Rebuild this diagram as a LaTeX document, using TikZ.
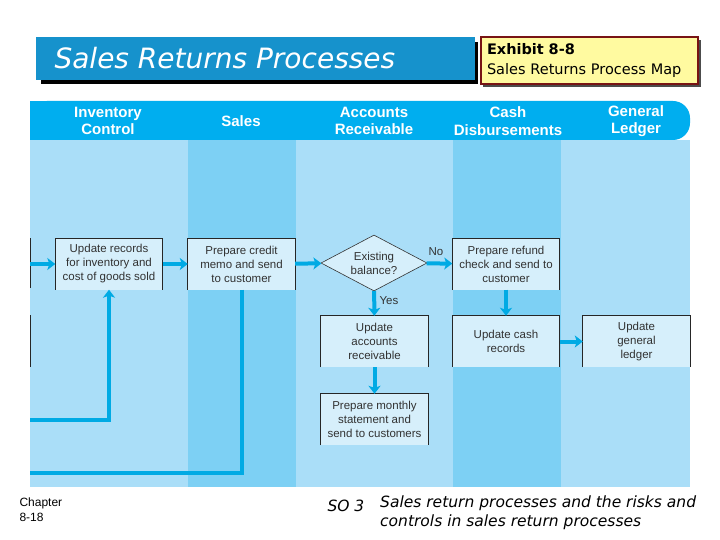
\documentclass[tikz,border=0pt]{standalone}
\usepackage{fontspec}
\setmainfont{Liberation Sans}
\newfontfamily\comic{DejaVu Sans}
\usetikzlibrary{arrows.meta,shapes.geometric}
\definecolor{lanelight}{RGB}{170,222,248}
\definecolor{lanedark}{RGB}{125,208,244}
\definecolor{headblue}{RGB}{0,174,239}
\definecolor{flow}{RGB}{0,170,228}
\definecolor{boxfill}{RGB}{214,239,251}
\definecolor{titleblue}{RGB}{22,146,204}
\definecolor{exfill}{RGB}{255,250,160}
\definecolor{exborder}{RGB}{120,20,20}
\definecolor{txt}{RGB}{50,50,50}
\begin{document}
\begin{tikzpicture}[x=1pt,y=-1pt,
  proc/.style={fill=boxfill, minimum width=107pt, minimum height=51pt, inner sep=0pt,
    align=center, font=\fontsize{11.5}{14}\selectfont, text=txt},
  dec/.style={diamond, draw=black!80, line width=0.6pt, fill=boxfill, shape aspect=1.9,
    minimum width=106pt, minimum height=56pt, inner sep=0pt, align=center,
    font=\fontsize{11.5}{14}\selectfont, text=txt},
  flowline/.style={draw=flow, line width=4pt},
  flowarrow/.style={flowline, -{Stealth[length=8pt,width=12pt,inset=2pt]}},
  lanehead/.style={text=white, align=center, font=\bfseries\fontsize{15}{17.5}\selectfont},
  edgeline/.style={draw=black!85, line width=0.7pt},
  lbl/.style={font=\fontsize{11.5}{13}\selectfont, text=txt}
]
\useasboundingbox[fill=white] (0,0) rectangle (720,540);

% title
\fill[black] (41,42) rectangle (478,84);
\fill[titleblue] (36,37) rectangle (475,80);
\node[anchor=west, text=white, font=\comic\itshape\fontsize{28}{30}\selectfont] (title) at (51,58) {Sales Returns Processes};

% exhibit box
\fill[black!70] (483,40) rectangle (701,87);
\node[draw=exborder, line width=2pt, fill=exfill, text width=205pt, inner xsep=6pt, inner ysep=4pt,
  minimum height=47pt, align=left, anchor=west, font=\comic\fontsize{14.5}{20.5}\selectfont] (exhibit) at (480,60.5)
  {\textbf{Exhibit 8-8}\\Sales Returns Process Map};

% lanes
\fill[lanelight] (30,140) rectangle (188,487);
\fill[lanedark] (188,140) rectangle (296,487);
\fill[lanelight] (296,140) rectangle (453,487);
\fill[lanedark] (453,140) rectangle (561,487);
\fill[lanelight] (561,140) rectangle (690,487);
\fill[headblue, rounded corners=17pt] (30,101) rectangle (690,140);
\fill[headblue] (30,101) rectangle (660,140);
\node[lanehead] (h1) at (108,121) {Inventory\\Control};
\node[lanehead] (h2) at (241,121) {Sales};
\node[lanehead] (h3) at (374,121) {Accounts\\Receivable};
\node[lanehead] (h4) at (508,121) {Cash\\Disbursements};
\node[lanehead] (h5) at (636,121) {General\\Ledger};

% boxes
\node[proc] (b1) at (109,264) {Update records\\for inventory and\\cost of goods sold};
\node[proc] (b2) at (241.5,264) {Prepare credit\\memo and send\\to customer};
\node[dec] (dec) at (374,263) {Existing\\balance?};
\node[proc] (b3) at (506,264) {Prepare refund\\check and send to\\customer};
\node[proc] (b4) at (374.5,341.5) {Update\\accounts\\receivable};
\node[proc] (b5) at (506,341.5) {Update cash\\records};
\node[proc] (b6) at (636.5,341.5) {Update\\general\\ledger};
\node[proc] (b7) at (374.5,419.5) {Prepare monthly\\statement and\\send to customers};
\foreach \n in {b1,b2,b3,b4,b5,b6,b7}
  \draw[edgeline] (\n.south west) -- (\n.north west) -- (\n.north east) -- (\n.south east);

% left edge fragments
\draw[edgeline] (30,238) -- (30,288);
\draw[edgeline] (30,315) -- (30,367);

% flows
\coordinate (in1) at (30,264);
\coordinate (ret1) at (30,473);
\coordinate (ret2) at (30,420);
\draw[flowarrow] (in1) -- (b1);
\draw[flowarrow] (b1) -- (b2);
\draw[flowarrow] (b2) -- (dec);
\draw[flowarrow] (dec) -- (b3);
\draw[flowarrow] (dec) -- (b4);
\draw[flowarrow] (b3) -- (b5);
\draw[flowarrow] (b5) -- (b6);
\draw[flowarrow] (b4) -- (b7);
\draw[flowline] (b2.south) -- (b2.south |- ret1) -- (ret1);
\draw[flowarrow] (ret2) -| (b1.south);
\node[lbl] (no) at (436,252) {No};
\node[lbl] (yes) at (389,301) {Yes};

% footer
\node[anchor=north west, align=left, font=\fontsize{12}{15}\selectfont] (chap) at (16,494) {Chapter\\8-18};
\node[anchor=base west, font=\comic\itshape\fontsize{15.5}{19}\selectfont] (so) at (324,511) {SO 3};
\node[anchor=north west, align=left, inner sep=0pt, font=\comic\itshape\fontsize{15.5}{19}\selectfont] (sotext) at (380,496)
  {Sales return processes and the risks and\\controls in sales return processes};
\end{tikzpicture}
\end{document}
